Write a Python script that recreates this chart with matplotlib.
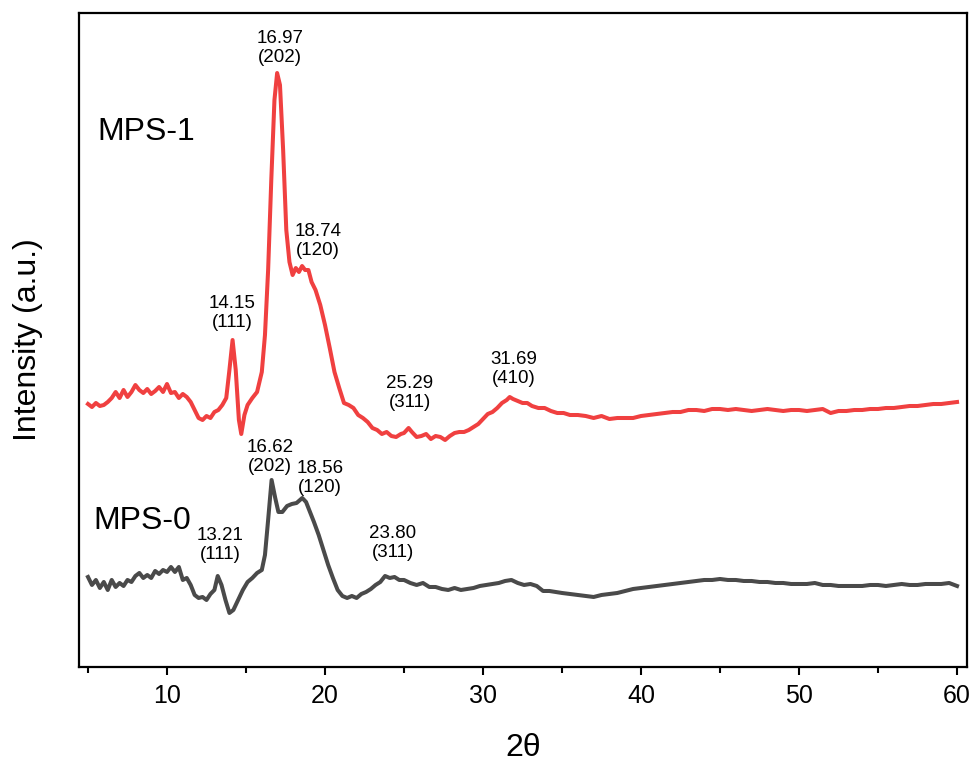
import numpy as np
import matplotlib
matplotlib.use('Agg')
import matplotlib.pyplot as plt
from matplotlib.ticker import MultipleLocator

plt.rcParams['font.family'] = ['Liberation Sans', 'DejaVu Sans']

# MPS-1 pattern (2theta, intensity a.u.)
tt_1 = [5.0, 5.25, 5.5, 5.75, 6.0, 6.25, 6.5, 6.75, 7.0, 7.25, 7.5, 7.75, 8.0, 8.25, 8.5, 8.75,
        9.0, 9.25, 9.5, 9.75, 10.0, 10.25, 10.5, 10.75, 11.0, 11.25, 11.5, 11.75, 12.0, 12.25,
        12.5, 12.75, 13.0, 13.25, 13.5, 13.75, 13.95, 14.15, 14.35, 14.55, 14.7, 14.9, 15.1,
        15.4, 15.7, 16.0, 16.2, 16.4, 16.6, 16.8, 16.97, 17.15, 17.35, 17.55, 17.75, 17.95,
        18.15, 18.35, 18.55, 18.74, 18.95, 19.15, 19.4, 19.7, 20.0, 20.3, 20.6, 20.9, 21.2,
        21.5, 21.8, 22.1, 22.4, 22.7, 23.0, 23.3, 23.6, 23.9, 24.2, 24.5, 24.8, 25.0, 25.29,
        25.5, 25.8, 26.1, 26.4, 26.7, 27.0, 27.3, 27.6, 27.9, 28.2, 28.5, 28.8, 29.1, 29.4,
        29.7, 30.0, 30.3, 30.6, 30.9, 31.2, 31.5, 31.69, 31.9, 32.2, 32.5, 32.8, 33.1, 33.5,
        33.9, 34.3, 34.7, 35.1, 35.5, 36.0, 36.5, 37.0, 37.5, 38.0, 38.5, 39.0, 39.5, 40.0,
        40.5, 41.0, 41.5, 42.0, 42.5, 43.0, 43.5, 44.0, 44.5, 45.0, 45.5, 46.0, 46.5, 47.0,
        47.5, 48.0, 48.5, 49.0, 49.5, 50.0, 50.5, 51.0, 51.5, 52.0, 52.5, 53.0, 53.5, 54.0,
        54.5, 55.0, 55.5, 56.0, 56.5, 57.0, 57.5, 58.0, 58.5, 59.0, 59.5, 60.0]
int_1 = [263, 260, 264, 261, 262, 265, 269, 275, 269, 277, 270, 275, 282, 277, 274, 278,
         273, 276, 280, 275, 283, 274, 275, 269, 273, 270, 265, 257, 249, 247,
         251, 249, 255, 257, 262, 269, 297, 327, 297, 247, 233, 252, 262,
         269, 275, 295, 332, 397, 487, 567, 594, 582, 517, 437, 405, 392,
         399, 395, 401, 397, 397, 385, 377, 362, 342, 319, 295, 279, 264,
         262, 259, 252, 249, 245, 239, 237, 233, 235, 231, 230, 233, 234, 239,
         235, 230, 231, 233, 228, 231, 230, 227, 231, 234, 235, 235, 237, 240,
         243, 248, 253, 255, 259, 264, 267, 270, 268, 266, 264, 264, 261, 259,
         259, 256, 254, 254, 252, 252, 251, 249, 251, 248, 249, 249, 249, 251,
         252, 253, 254, 255, 255, 257, 257, 256, 258, 258, 257, 258, 257, 256,
         257, 258, 257, 256, 257, 257, 256, 257, 258, 254, 256, 256, 257, 257,
         258, 258, 259, 259, 260, 261, 261, 262, 263, 263, 264, 265]

# MPS-0 pattern
tt_0 = [5.0, 5.25, 5.5, 5.75, 6.0, 6.25, 6.5, 6.75, 7.0, 7.25, 7.5, 7.75, 8.0, 8.25, 8.5, 8.75,
        9.0, 9.25, 9.5, 9.75, 10.0, 10.25, 10.5, 10.75, 11.0, 11.25, 11.5, 11.75, 12.0, 12.25,
        12.5, 12.75, 13.0, 13.21, 13.45, 13.7, 13.95, 14.2, 14.5, 14.8, 15.1, 15.4, 15.7, 16.0,
        16.2, 16.4, 16.62, 16.85, 17.05, 17.3, 17.6, 17.9, 18.2, 18.56, 18.8, 19.0, 19.3, 19.6,
        19.9, 20.2, 20.5, 20.8, 21.1, 21.4, 21.7, 22.0, 22.3, 22.6, 22.9, 23.2, 23.5, 23.8,
        24.1, 24.4, 24.7, 25.0, 25.4, 25.8, 26.2, 26.6, 27.0, 27.4, 27.8, 28.2, 28.6, 29.0,
        29.4, 29.8, 30.2, 30.6, 31.0, 31.4, 31.8, 32.2, 32.6, 33.0, 33.4, 33.8, 34.2, 34.6,
        35.0, 35.5, 36.0, 36.5, 37.0, 37.5, 38.0, 38.5, 39.0, 39.5, 40.0, 40.5, 41.0, 41.5,
        42.0, 42.5, 43.0, 43.5, 44.0, 44.5, 45.0, 45.5, 46.0, 46.5, 47.0, 47.5, 48.0, 48.5,
        49.0, 49.5, 50.0, 50.5, 51.0, 51.5, 52.0, 52.5, 53.0, 53.5, 54.0, 54.5, 55.0, 55.5,
        56.0, 56.5, 57.0, 57.5, 58.0, 58.5, 59.0, 59.5, 60.0]
int_0 = [90, 82, 87, 79, 85, 77, 87, 80, 84, 81, 87, 85, 91, 94, 89, 92,
         89, 96, 93, 97, 95, 100, 95, 100, 87, 89, 82, 72, 69, 70,
         67, 73, 77, 91, 82, 67, 54, 57, 67, 77, 85, 89, 94, 97,
         112, 147, 187, 169, 155, 155, 161, 163, 164, 169, 165, 157, 145, 132,
         117, 102, 89, 77, 71, 69, 71, 69, 73, 75, 78, 82, 85, 91,
         89, 90, 87, 87, 84, 82, 84, 80, 80, 78, 77, 79, 77, 78,
         79, 81, 82, 83, 84, 86, 87, 84, 82, 83, 81, 76, 76, 75,
         74, 73, 72, 71, 70, 72, 73, 74, 76, 78, 79, 80, 81, 82,
         83, 84, 85, 86, 87, 87, 88, 87, 87, 86, 86, 85, 85, 84,
         84, 83, 83, 83, 84, 82, 82, 81, 81, 81, 81, 82, 82, 81,
         82, 83, 82, 82, 83, 83, 83, 84, 81]

# peak labels: (x, y, text)
peaks_1 = [(17.15, 619, '16.97\n(202)'), (19.56, 426, '18.74\n(120)'),
           (14.11, 354, '14.15\n(111)'), (25.38, 274, '25.29\n(311)'),
           (31.96, 298, '31.69\n(410)')]
peaks_0 = [(16.52, 210, '16.62\n(202)'), (19.68, 189, '18.56\n(120)'),
           (13.35, 122, '13.21\n(111)'), (24.30, 124, '23.80\n(311)')]

fig = plt.figure(figsize=(9.74, 7.62), dpi=100)
ax = fig.add_axes([0.0811, 0.1247, 0.9117, 0.8582])

ax.plot(tt_1, int_1, color='#f04040', lw=2.9, solid_joinstyle='round')
ax.plot(tt_0, int_0, color='#4a4a4a', lw=2.9, solid_joinstyle='round')

for x, y, s in peaks_1 + peaks_0:
    ax.text(x, y, s, ha='center', va='center', fontsize=13.5, linespacing=1.2)

ax.text(5.57, 535, 'MPS-1', ha='left', va='center', fontsize=23)
ax.text(5.32, 146, 'MPS-0', ha='left', va='center', fontsize=23)

ax.set_xlim(4.43, 60.63)
ax.set_ylim(0, 654)
ax.xaxis.set_major_locator(MultipleLocator(10))
ax.xaxis.set_minor_locator(MultipleLocator(5))
ax.tick_params(axis='x', which='major', direction='out', length=6, width=1.5, labelsize=18, pad=6)
ax.tick_params(axis='x', which='minor', direction='out', length=4, width=1.5)
ax.tick_params(axis='x', top=False)
ax.set_yticks([])
for sp in ax.spines.values():
    sp.set_linewidth(1.6)

ax.set_xlabel('2θ', fontsize=23, labelpad=18)
ax.set_ylabel('Intensity (a.u.)', fontsize=23, labelpad=26)

plt.savefig('out.png', dpi=100)
